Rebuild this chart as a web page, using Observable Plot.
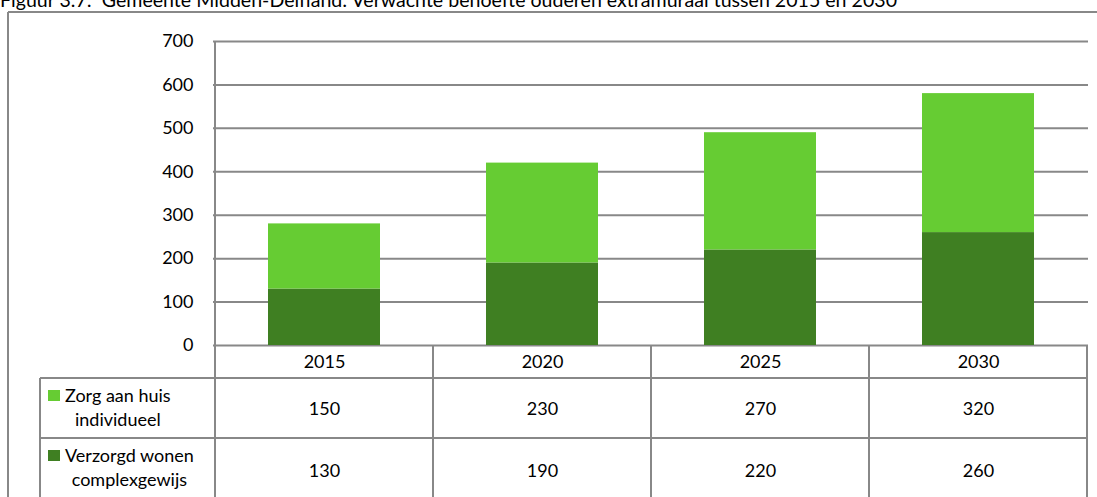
<!DOCTYPE html>
<html>
<head>
<meta charset="utf-8">
<script src="https://cdn.jsdelivr.net/npm/d3@7"></script>
<script src="https://cdn.jsdelivr.net/npm/@observablehq/plot@0.6"></script>
<style>
  html, body { margin: 0; padding: 0; background: #ffffff; }
  #chart { width: 1097px; height: 497px; overflow: hidden; }
  svg { display: block; }
</style>
</head>
<body>
<div id="chart"></div>
<script>
// ---- data ----
const titleText = "Figuur 3.7:  Gemeente Midden-Delfland: Verwachte behoefte ouderen extramuraal tussen 2015 en 2030";
const years = ["2015", "2020", "2025", "2030"];
const zorgAanHuis = [150, 230, 270, 320];
const verzorgdWonen = [130, 190, 220, 260];
const seriesNames = ["Verzorgd wonen complexgewijs", "Zorg aan huis individueel"];
const legendLines = [["Zorg aan huis", "individueel"], ["Verzorgd wonen", "complexgewijs"]];
const yTicks = [0, 100, 200, 300, 400, 500, 600, 700];
const seriesColors = ["#3F7F22", "#66CC33"];

const rows = years.flatMap((yr, i) => [
  {year: yr, series: seriesNames[0], value: verzorgdWonen[i]},
  {year: yr, series: seriesNames[1], value: zorgAanHuis[i]}
]);

const FONT = "Lato, Carlito, 'Liberation Sans', sans-serif";
const GRID = "#888888";

const plot = Plot.plot({
  width: 1097,
  height: 497,
  marginTop: 41,
  marginBottom: 152,
  marginLeft: 213,
  marginRight: 9,
  style: {fontFamily: FONT, fontSize: "18px", background: "#ffffff", color: "#000000", overflow: "visible"},
  x: {domain: years, padding: 0, axis: null},
  y: {domain: [0, 700], axis: null},
  color: {domain: seriesNames, range: seriesColors},
  marks: [
    Plot.ruleY(yTicks, {y: d => d, stroke: GRID, strokeWidth: 2, strokeOpacity: 1}),
    Plot.barY(rows, {x: "year", y: "value", fill: "series", insetLeft: 53, insetRight: 53}),
    Plot.text(yTicks, {y: d => d, text: d => String(d), frameAnchor: "left", textAnchor: "end", dx: -20, fontSize: 18, fill: "#000"}),
    Plot.text(years, {x: d => d, text: d => d, frameAnchor: "bottom", lineAnchor: "middle", dy: 17, fontSize: 18, fill: "#000"}),
    Plot.text(years, {x: d => d, text: (d, i) => String(zorgAanHuis[i]), frameAnchor: "bottom", lineAnchor: "middle", dy: 64, fontSize: 18, fill: "#000"}),
    Plot.text(years, {x: d => d, text: (d, i) => String(verzorgdWonen[i]), frameAnchor: "bottom", lineAnchor: "middle", dy: 125.5, fontSize: 18, fill: "#000"})
  ]
});

document.getElementById("chart").appendChild(plot);

// ---- frame, table grid and legend keys, positioned from the plot's own scales ----
const svg = d3.select(plot);
const xs = plot.scale("x");
const ys = plot.scale("y");
const bw = xs.bandwidth;
const left = xs.apply(years[0]);
const right = xs.apply(years[years.length - 1]) + bw;
const y0 = ys.apply(0);
const yTop = ys.apply(700);
const H = 497;
const row1 = y0 + 33;   // below the year header row
const row2 = y0 + 93;   // between the two data rows
const legendLeft = 40;

const g = svg.append("g").attr("stroke", GRID).attr("stroke-width", 2).attr("fill", "none");
// outer frame (partially visible)
g.append("line").attr("x1", 8).attr("x2", 8).attr("y1", 12).attr("y2", H + 2);
g.append("line").attr("x1", 8).attr("x2", 1100).attr("y1", 12).attr("y2", 12);
// vertical axis line
g.append("line").attr("x1", left).attr("x2", left).attr("y1", yTop).attr("y2", H + 2);
// column separators in the data table
years.forEach(yr => {
  const xe = xs.apply(yr) + bw;
  g.append("line").attr("x1", xe).attr("x2", xe).attr("y1", y0).attr("y2", H + 2);
});
// table row lines
[row1, row2].forEach(yy => {
  g.append("line").attr("x1", legendLeft).attr("x2", right).attr("y1", yy).attr("y2", yy);
});
g.append("line").attr("x1", legendLeft).attr("x2", legendLeft).attr("y1", row1).attr("y2", H + 2);

// legend cells: key square + centred two-line label
const color = plot.scale("color");
const legendRows = [
  {series: seriesNames[1], lines: legendLines[0], top: row1},
  {series: seriesNames[0], lines: legendLines[1], top: row2}
];
legendRows.forEach(r => {
  svg.append("rect")
    .attr("x", 48).attr("y", r.top + 12).attr("width", 12).attr("height", 11)
    .attr("fill", color.apply(r.series));
  const t = svg.append("text")
    .attr("text-anchor", "start")
    .attr("font-family", FONT).attr("font-size", 18).attr("fill", "#000");
  const spans = r.lines.map((ln, k) =>
    t.append("tspan").attr("x", 65).attr("y", r.top + 24 + k * 24).text(ln));
  const widths = spans.map(s => s.node().getComputedTextLength());
  const maxW = Math.max(...widths);
  spans.forEach((s, k) => s.attr("x", 65 + (maxW - widths[k]) / 2));
});

// title (cut off at the top, as in the original)
const title = svg.append("text")
  .attr("text-anchor", "start")
  .attr("x", 0).attr("y", 7)
  .attr("font-family", FONT).attr("font-size", 19).attr("fill", "#000")
  .text(titleText);
title.attr("textLength", 897).attr("lengthAdjust", "spacingAndGlyphs");
</script>
</body>
</html>
